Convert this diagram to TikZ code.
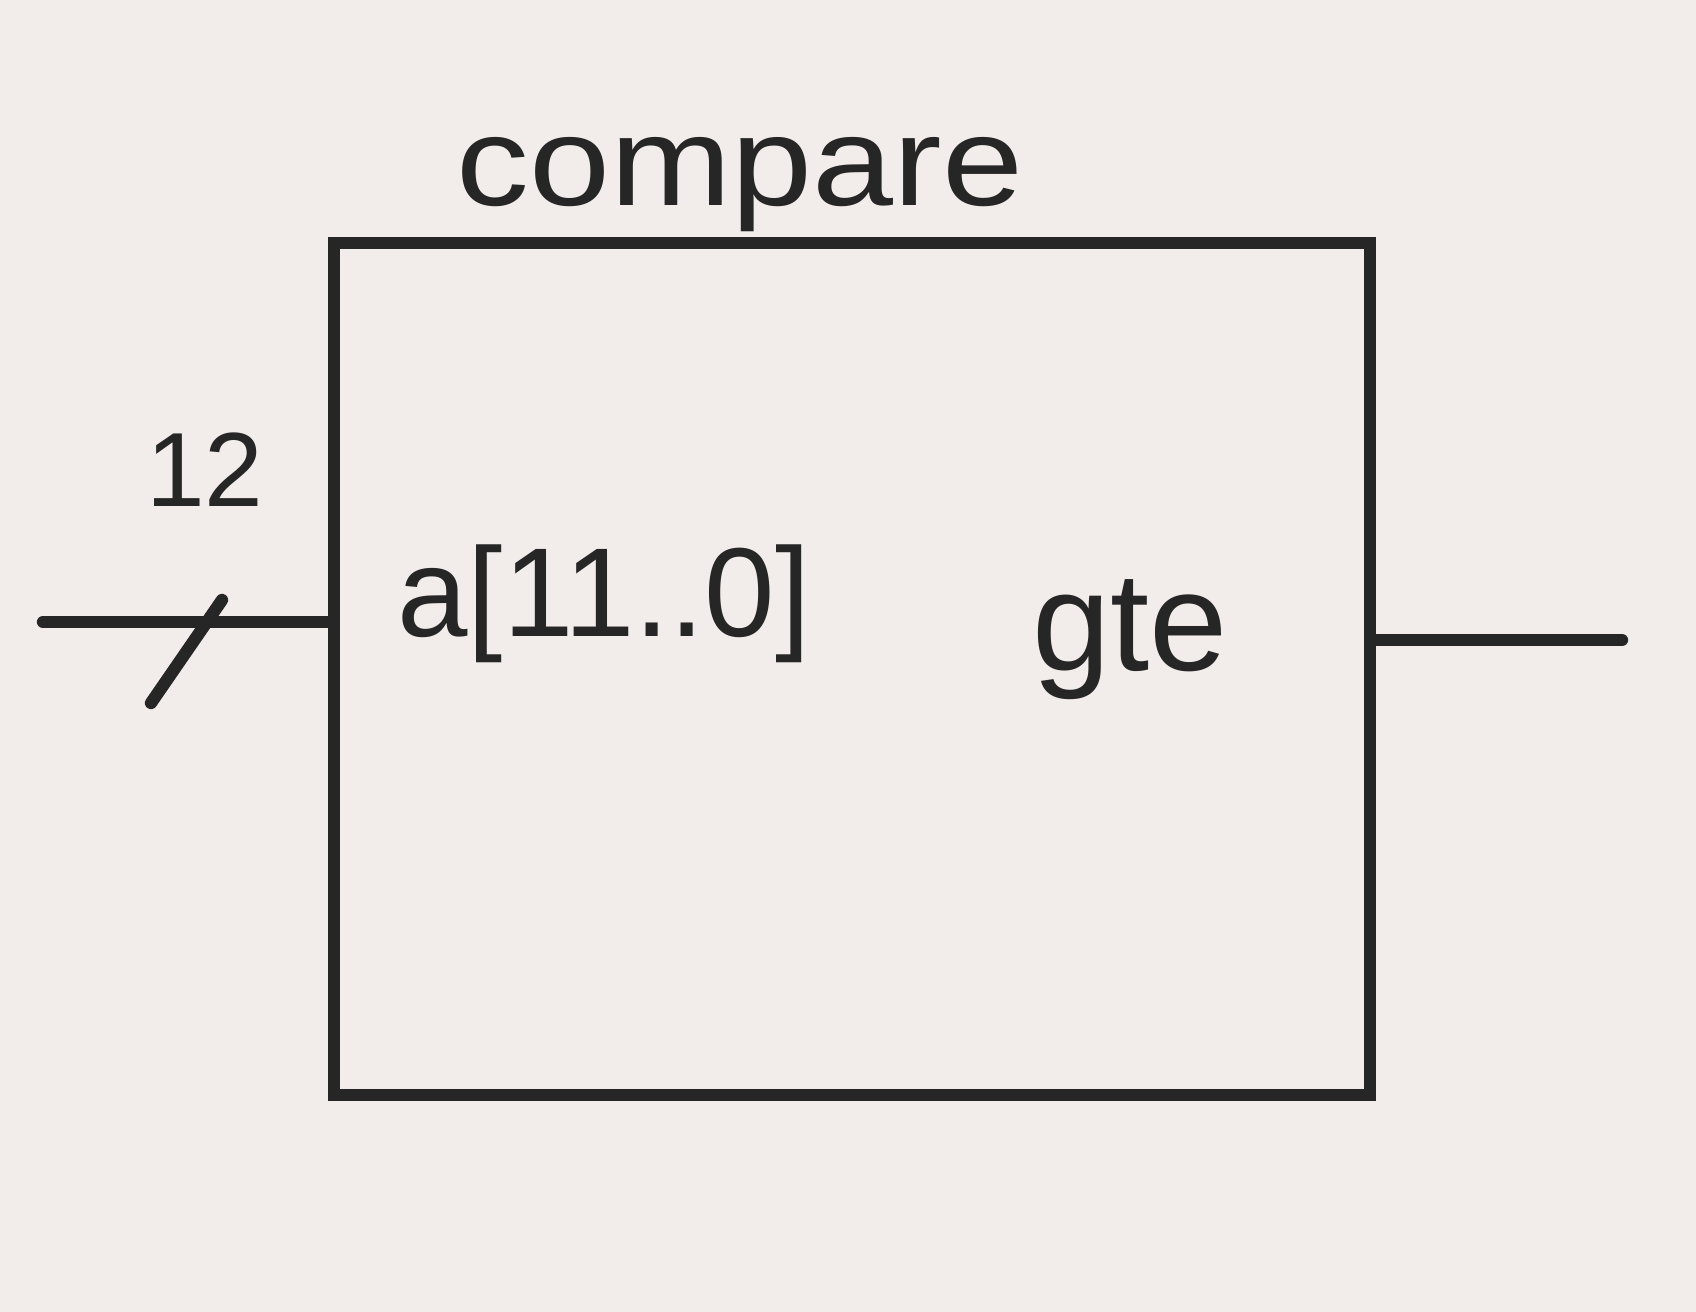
\documentclass[tikz,border=0pt]{standalone}
\usepackage{fontspec}
\setsansfont{Liberation Sans}
\usetikzlibrary{positioning, calc}
\definecolor{papel}{HTML}{F2EDEB}
\definecolor{lapiz}{HTML}{262626}
\tikzset{
  every picture/.style={font=\sffamily},
  bloque/.style={draw=lapiz, line width=3.3pt, minimum width=10.35cm, minimum height=8.52cm},
  cable/.style={draw=lapiz, line width=3.5pt, line cap=round},
  etiq/.style={text=lapiz, inner sep=0pt, font=\sffamily\fontsize{36}{40}\selectfont},
}
\begin{document}
\begin{tikzpicture}[x=0.01cm, y=-0.01cm]
  \fill[papel] (0,0) rectangle (1696,1312);
  \useasboundingbox (0,0) rectangle (1696,1312);
  \node[bloque] (CMP) at (852,669) {};
  \node[etiq, anchor=base, xscale=1.15] (NOM) at (740,205) {compare};
  \node[etiq, anchor=base] (A) at (604,636) {a[11..0]};
  \node[etiq, anchor=base, font=\sffamily\fontsize{40}{44}\selectfont] (GTE) at (1130,670) {gte};
  \node[etiq, anchor=base, font=\sffamily\fontsize{30}{34}\selectfont] (ANCHO) at (205,506) {12};
  \coordinate (ent) at (43,622);
  \coordinate (sal) at (1622,640);
  \coordinate (bus) at (186,630);
  \draw[cable] (ent) -- (ent -| CMP.west);
  \draw[cable] (sal -| CMP.east) -- (sal);
  \draw[cable] ($(bus)+(-35,73)$) -- ($(bus)+(36,-30)$);
\end{tikzpicture}
\end{document}
